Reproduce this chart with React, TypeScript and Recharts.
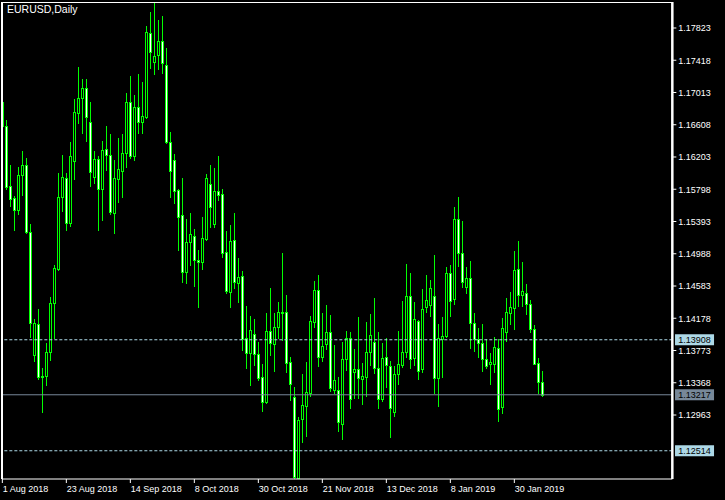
import { ComposedChart, Bar, XAxis, YAxis, ReferenceLine } from 'recharts';

// EURUSD daily, 1 Aug 2018 .. 8 Feb 2019
const opens = [
  1.16894, 1.16592, 1.15839, 1.15692, 1.15534, 1.15981, 1.16099, 1.15257, 1.13717, 1.14106,
  1.13453, 1.13453, 1.13758, 1.14366, 1.14796, 1.15697, 1.15935, 1.15370, 1.16157, 1.16759,
  1.16940, 1.17066, 1.16646, 1.15956, 1.16174, 1.15797, 1.16300, 1.16224, 1.15496, 1.15923,
  1.16031, 1.16250, 1.16890, 1.16216, 1.16827, 1.16646, 1.16709, 1.17756, 1.17400, 1.17484,
  1.17660, 1.17358, 1.16395, 1.16165, 1.15789, 1.15475, 1.14763, 1.15139, 1.15211, 1.14910,
  1.14888, 1.15173, 1.15860, 1.15358, 1.15780, 1.15735, 1.15006, 1.14511, 1.15161, 1.14625,
  1.14709, 1.13926, 1.13738, 1.13980, 1.13729, 1.13444, 1.13130, 1.14018, 1.13851, 1.14064,
  1.14260, 1.14253, 1.13625, 1.13185, 1.12176, 1.12909, 1.13080, 1.13236, 1.14135, 1.14533,
  1.13695, 1.13851, 1.14002, 1.13277, 1.13277, 1.12846, 1.13662, 1.13926, 1.13499, 1.13537,
  1.13411, 1.13444, 1.13758, 1.13884, 1.13550, 1.13160, 1.13688, 1.13578, 1.12997, 1.13474,
  1.13591, 1.13758, 1.14457, 1.13675, 1.14147, 1.13537, 1.14316, 1.14344, 1.14457, 1.13431,
  1.13917, 1.13959, 1.14743, 1.14416, 1.15421, 1.14994, 1.14567, 1.14680, 1.14115, 1.13914,
  1.13871, 1.13662, 1.13600, 1.13600, 1.13801, 1.13067, 1.14002, 1.14248, 1.14311, 1.14793,
  1.14470, 1.14499, 1.14353, 1.14039, 1.13612, 1.13374,
];
const highs = [
  1.16919, 1.16668, 1.16103, 1.15713, 1.16074, 1.16278, 1.16190, 1.15362, 1.14165, 1.14290,
  1.13550, 1.13871, 1.14441, 1.14847, 1.16006, 1.16228, 1.15998, 1.16388, 1.16931, 1.17337,
  1.17183, 1.17183, 1.16890, 1.16278, 1.16216, 1.16404, 1.16592, 1.16492, 1.16165, 1.16438,
  1.16492, 1.17003, 1.17220, 1.16982, 1.17245, 1.17149, 1.17848, 1.18020, 1.18141, 1.17923,
  1.17977, 1.17568, 1.16521, 1.16241, 1.15797, 1.15935, 1.15424, 1.15496, 1.15295, 1.15035,
  1.15446, 1.15990, 1.16103, 1.16061, 1.16216, 1.15797, 1.15274, 1.15349, 1.15496, 1.14938,
  1.14775, 1.14332, 1.14206, 1.14165, 1.13884, 1.13604, 1.14248, 1.14554, 1.14248, 1.14386,
  1.14994, 1.14470, 1.13688, 1.13311, 1.12934, 1.13478, 1.13632, 1.14206, 1.14646, 1.14721,
  1.14248, 1.14344, 1.14219, 1.13842, 1.13444, 1.13884, 1.14018, 1.14002, 1.13788, 1.14190,
  1.13620, 1.14127, 1.14231, 1.14436, 1.14002, 1.13863, 1.13926, 1.13645, 1.13578, 1.14018,
  1.14395, 1.14859, 1.14742, 1.14386, 1.14156, 1.14545, 1.14721, 1.14658, 1.14972, 1.14106,
  1.14198, 1.14818, 1.14847, 1.15571, 1.15697, 1.15399, 1.14818, 1.14897, 1.14240, 1.14052,
  1.14106, 1.13914, 1.13745, 1.13939, 1.13914, 1.14177, 1.14429, 1.14504, 1.15023, 1.15148,
  1.14881, 1.14608, 1.14407, 1.14093, 1.13683, 1.13515,
];
const lows = [
  1.16580, 1.15805, 1.15588, 1.15286, 1.15487, 1.15726, 1.15245, 1.13943, 1.13645, 1.13411,
  1.13005, 1.13340, 1.13654, 1.13926, 1.14784, 1.15529, 1.15286, 1.15340, 1.15927, 1.16626,
  1.16508, 1.16408, 1.15839, 1.15880, 1.15286, 1.15412, 1.16040, 1.15487, 1.15252, 1.15642,
  1.15697, 1.16081, 1.16187, 1.16165, 1.16508, 1.16501, 1.16689, 1.17317, 1.17245, 1.17308,
  1.17254, 1.16383, 1.15697, 1.15629, 1.15035, 1.14637, 1.14625, 1.14847, 1.14587, 1.14316,
  1.14793, 1.15161, 1.15328, 1.15328, 1.15663, 1.14951, 1.14491, 1.14323, 1.14554, 1.14386,
  1.13779, 1.13557, 1.13340, 1.13591, 1.13403, 1.13013, 1.13110, 1.13717, 1.13519, 1.13926,
  1.13905, 1.13507, 1.13151, 1.12159, 1.12159, 1.12628, 1.12699, 1.13202, 1.14072, 1.13578,
  1.13645, 1.13788, 1.13268, 1.13243, 1.12766, 1.12662, 1.13528, 1.13047, 1.13176, 1.13176,
  1.13101, 1.13202, 1.13591, 1.13487, 1.13055, 1.13143, 1.13311, 1.12690, 1.12951, 1.13352,
  1.13562, 1.13688, 1.13557, 1.13591, 1.13415, 1.13507, 1.14260, 1.14206, 1.13243, 1.13076,
  1.13444, 1.13946, 1.14206, 1.14357, 1.14834, 1.14567, 1.14499, 1.13808, 1.13771, 1.13695,
  1.13519, 1.13557, 1.13352, 1.13507, 1.12891, 1.12992, 1.13892, 1.14106, 1.14043, 1.14332,
  1.14332, 1.14231, 1.14009, 1.13600, 1.13236, 1.13202,
];
const closes = [
  1.16592, 1.15830, 1.15672, 1.15534, 1.15973, 1.16099, 1.15265, 1.14115, 1.14115, 1.13437,
  1.13437, 1.13758, 1.14373, 1.14805, 1.15697, 1.15956, 1.15378, 1.16216, 1.16772, 1.16940,
  1.17066, 1.16702, 1.16018, 1.16174, 1.15797, 1.16291, 1.16224, 1.15516, 1.15935, 1.16048,
  1.16250, 1.16890, 1.16216, 1.16827, 1.16646, 1.16718, 1.17776, 1.17525, 1.17471, 1.17660,
  1.17380, 1.16395, 1.16027, 1.15776, 1.15453, 1.14763, 1.15132, 1.15232, 1.14910, 1.14888,
  1.15182, 1.15935, 1.15579, 1.15780, 1.15726, 1.14994, 1.14524, 1.15148, 1.14637, 1.14692,
  1.13914, 1.13745, 1.14030, 1.13725, 1.13431, 1.13130, 1.14018, 1.13863, 1.14064, 1.14260,
  1.14248, 1.13620, 1.13349, 1.12181, 1.12900, 1.13089, 1.13256, 1.14144, 1.14533, 1.13695,
  1.13833, 1.14002, 1.13298, 1.13403, 1.12871, 1.13662, 1.13926, 1.13160, 1.13537, 1.13424,
  1.13453, 1.13750, 1.13968, 1.13550, 1.13160, 1.13675, 1.13591, 1.13055, 1.13474, 1.13600,
  1.13758, 1.14457, 1.13662, 1.14165, 1.13519, 1.14290, 1.14407, 1.14554, 1.13431, 1.13926,
  1.13959, 1.14743, 1.14398, 1.15421, 1.14994, 1.14630, 1.14680, 1.14122, 1.13914, 1.13871,
  1.13662, 1.13582, 1.13632, 1.13813, 1.13035, 1.14052, 1.14260, 1.14316, 1.14784, 1.14470,
  1.14524, 1.14353, 1.14039, 1.13603, 1.13381, 1.13217,
];

const dateTickIdx = [0, 16, 32, 48, 64, 80, 96, 112, 128];
const dateLabels = [
  '1 Aug 2018', '23 Aug 2018', '14 Sep 2018', '8 Oct 2018', '30 Oct 2018',
  '21 Nov 2018', '13 Dec 2018', '8 Jan 2019', '30 Jan 2019',
];
// 1.12558 sits under the 1.12514 price box in the terminal, so it is left out
const priceTicks = [
  1.17823, 1.17418, 1.17013, 1.16608, 1.16203, 1.15798, 1.15393,
  1.14988, 1.14583, 1.14178, 1.13773, 1.13368, 1.12963,
];
const levelValues = [1.13908, 1.13217, 1.12514];
const levelColors = ['#add8e6', '#778899', '#add8e6'];
const levelDashed = [true, false, true];

const Y_MIN = 1.121593;
const Y_MAX = 1.181495;
const SHIFT_SLOTS = 32; // empty space on the right, like the terminal's chart shift

const FONT = '"Liberation Sans", Arial, sans-serif';
const UP = '#00ff00';

const rows = Array.from({ length: opens.length + SHIFT_SLOTS }, (_, i) =>
  i < opens.length
    ? { idx: i, o: opens[i], h: highs[i], l: lows[i], c: closes[i], range: [lows[i], highs[i]] }
    : { idx: i, range: null }
);

function Candle(props: any) {
  const { x, y, width, height, payload } = props;
  if (!payload || payload.h == null || !isFinite(y) || !isFinite(height)) return null;
  const top = Math.min(y, y + height);
  const bot = Math.max(y, y + height);
  const span = payload.h - payload.l;
  const toY = (v: number) => top + ((payload.h - v) / span) * (bot - top);
  const cx = Math.round(x + width / 2) + 0.5;
  const bTop = Math.round(Math.min(toY(payload.o), toY(payload.c))) + 0.5;
  const bBot = Math.round(Math.max(toY(payload.o), toY(payload.c))) + 0.5;
  const bear = payload.c < payload.o;
  return (
    <g shapeRendering="crispEdges">
      <line x1={cx} x2={cx} y1={Math.round(top)} y2={Math.round(bot) + 1} stroke={UP} strokeWidth={1} />
      {bBot - bTop < 1 ? (
        <line x1={cx - 1.5} x2={cx + 1.5} y1={bTop} y2={bTop} stroke={UP} strokeWidth={1} />
      ) : (
        <rect x={cx - 1} y={bTop} width={2} height={bBot - bTop} fill={bear ? '#ffffff' : '#000000'} stroke={UP} strokeWidth={1} />
      )}
    </g>
  );
}

function DateTick({ x, y, payload }: any) {
  const k = dateTickIdx.indexOf(payload.value);
  if (k < 0) return null;
  return (
    <text x={x + 0.5} y={y + 6.5} fill="#fff" fontSize={9} fontFamily={FONT} textAnchor="start">
      {dateLabels[k]}
    </text>
  );
}

function PriceTick({ x, y, payload }: any) {
  return (
    <text x={x} y={y + 3.3} fill="#fff" fontSize={9} fontFamily={FONT} textAnchor="start">
      {Number(payload.value).toFixed(5)}
    </text>
  );
}

const levelLabel = (value: number, bg: string) => (props: any) => {
  const vb = props.viewBox;
  if (!vb) return null;
  const bx = vb.x + vb.width + 2.7;
  return (
    <g>
      <rect x={bx} y={vb.y - 5.5} width={39} height={11} fill={bg} />
      <text x={bx + 3.3} y={vb.y + 3.3} fill="#000" fontSize={9} fontFamily={FONT}>
        {value.toFixed(5)}
      </text>
    </g>
  );
};

export default function App() {
  return (
    <div style={{ position: 'absolute', left: 0, top: 0, width: 725, height: 500, background: '#000', overflow: 'hidden' }}>
      <ComposedChart width={725} height={500} data={rows} margin={{ top: 2, right: 0, bottom: 0, left: 2 }}>
        <XAxis
          dataKey="idx"
          type="category"
          ticks={dateTickIdx}
          interval={0}
          tick={<DateTick />}
          tickSize={4}
          tickLine={{ stroke: '#fff' }}
          axisLine={{ stroke: '#fff' }}
          height={21}
          padding={{ left: -1.67, right: 0 }}
        />
        <YAxis
          orientation="right"
          type="number"
          domain={[Y_MIN, Y_MAX]}
          allowDataOverflow
          ticks={priceTicks}
          interval={0}
          width={52.67}
          tick={<PriceTick />}
          tickSize={4}
          tickMargin={2}
          tickLine={{ stroke: '#fff' }}
          axisLine={{ stroke: '#fff', strokeWidth: 2.5 }}
        />
        <Bar dataKey="range" shape={(p: any) => <Candle {...p} />} isAnimationActive={false} />
        {levelValues.map((v, i) => (
          <ReferenceLine
            key={v}
            y={v}
            stroke={levelColors[i]}
            strokeDasharray={levelDashed[i] ? '3 2' : undefined}
            label={levelLabel(v, levelColors[i])}
          />
        ))}
      </ComposedChart>
      {/* top and left edges of the price window */}
      <div
        style={{
          position: 'absolute', left: 1, top: 2, width: 671, height: 477,
          borderLeft: '2px solid #fff', borderTop: '1px solid #fff', boxSizing: 'border-box', pointerEvents: 'none',
        }}
      />
      <div style={{ position: 'absolute', left: 7, top: 3, color: '#fff', fontFamily: FONT, fontSize: 10.5, lineHeight: '12px' }}>
        EURUSD,Daily
      </div>
    </div>
  );
}
